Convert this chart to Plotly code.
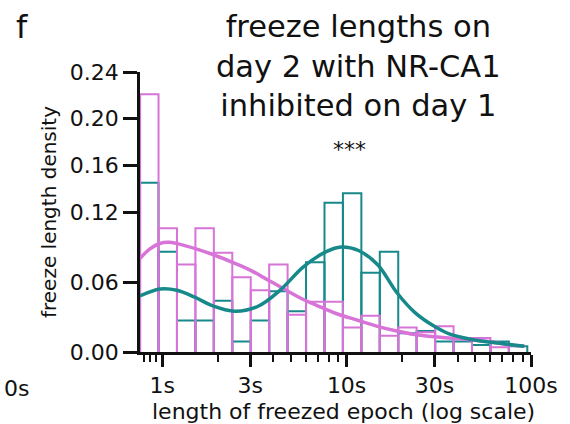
import plotly.graph_objects as go

# Histogram bins: 0.1-decade wide, log-spaced, in seconds
bin_edges_log = [-0.12 + 0.1 * k for k in range(22)]
bin_edges = [10 ** e for e in bin_edges_log]

# Density per bin (day 2 freeze lengths)
density_inhibited = [0.221, 0.106, 0.075, 0.106, 0.085, 0.064, 0.053, 0.075, 0.032, 0.043, 0.043,
                     0.021, 0.031, 0.014, 0.021, 0.017, 0.022, 0.012, 0.012, 0.004, 0.0]
density_control = [0.145, 0.086, 0.027, 0.027, 0.044, 0.009, 0.027, 0.052, 0.035, 0.077, 0.128,
                   0.136, 0.068, 0.086, 0.016, 0.018, 0.009, 0.009, 0.006, 0.009, 0.005]

# Kernel density estimates (seconds, density)
kde_inhibited_x = [0.757, 0.85, 0.97, 1.09, 1.34, 1.85, 2.48, 3.02, 3.72, 4.58, 5.83, 6.87,
                   8.77, 11.6, 14.7, 18.7, 23.4, 29.9, 46.8, 59.8, 73, 92]
kde_inhibited_y = [0.080, 0.088, 0.093, 0.094, 0.091, 0.084, 0.076, 0.070, 0.062, 0.054, 0.045,
                   0.040, 0.033, 0.027, 0.022, 0.018, 0.015, 0.013, 0.0105, 0.0089, 0.0065, 0.005]
kde_control_x = [0.757, 0.97, 1.2, 1.5, 1.85, 2.48, 3.29, 4.36, 5.83, 7.76, 9.33, 11.6, 14.7,
                 18.7, 23.4, 29.9, 36, 46.8, 73, 92]
kde_control_y = [0.048, 0.054, 0.053, 0.047, 0.040, 0.035, 0.039, 0.053, 0.073, 0.086, 0.090,
                 0.087, 0.075, 0.051, 0.034, 0.022, 0.0155, 0.011, 0.0069, 0.005]

x_tick_vals = [1, 3, 10, 30, 100]
x_tick_text = ["1s", "3s", "10s", "30s", "100s"]
x_minor_vals = [0.8, 0.86, 0.92, 2, 4, 5, 6, 7, 8, 9, 20, 40, 50, 60, 70, 80, 90]
y_tick_vals = [0.0, 0.06, 0.12, 0.16, 0.20, 0.24]

PINK = "#d873d8"
TEAL = "#17898a"
INK = "#111111"
FONT = "DejaVu Sans"


def outline(edges, heights):
    xs, ys = [], []
    for i, h in enumerate(heights):
        if h <= 0:
            continue
        xs += [edges[i], edges[i], edges[i + 1], edges[i + 1], None]
        ys += [0, h, h, 0, None]
    return xs, ys


fig = go.Figure()

xs, ys = outline(bin_edges, density_control)
fig.add_trace(go.Scatter(x=xs, y=ys, mode="lines", line=dict(color=TEAL, width=2),
                         hoverinfo="skip", showlegend=False))
xs, ys = outline(bin_edges, density_inhibited)
fig.add_trace(go.Scatter(x=xs, y=ys, mode="lines", line=dict(color=PINK, width=2),
                         hoverinfo="skip", showlegend=False))
fig.add_trace(go.Scatter(x=kde_inhibited_x, y=kde_inhibited_y, mode="lines",
                         line=dict(color=PINK, width=3.5, shape="spline", smoothing=1.0),
                         showlegend=False))
fig.add_trace(go.Scatter(x=kde_control_x, y=kde_control_y, mode="lines",
                         line=dict(color=TEAL, width=3.5, shape="spline", smoothing=1.0),
                         showlegend=False))

fig.update_layout(
    width=570, height=424,
    margin=dict(l=140, r=31, t=72, b=72),
    paper_bgcolor="white", plot_bgcolor="white",
    font=dict(family=FONT, color=INK),
    xaxis=dict(
        type="log", range=[-0.1205, 2.0],
        tickvals=x_tick_vals, ticktext=x_tick_text,
        ticks="outside", ticklen=12, tickwidth=2.5, tickcolor=INK,
        showline=True, linecolor=INK, linewidth=2.5,
        showgrid=False, zeroline=False,
        tickfont=dict(size=22, family=FONT, color=INK),
        minor=dict(tickvals=x_minor_vals, ticks="outside", ticklen=7, tickwidth=2,
                   tickcolor=INK, showgrid=False),
    ),
    yaxis=dict(
        range=[0, 0.24],
        tickvals=y_tick_vals, ticktext=[f"{v:.2f}" for v in y_tick_vals],
        ticks="outside", ticklen=14, tickwidth=2.5, tickcolor=INK,
        showline=True, linecolor=INK, linewidth=2.5,
        showgrid=False, zeroline=False,
        tickfont=dict(size=22, family=FONT, color=INK),
        title=dict(text="freeze length density", standoff=8,
                   font=dict(size=20, family=FONT, color=INK)),
    ),
    annotations=[
        dict(text="freeze lengths on<br>day 2 with NR-CA1<br>inhibited on day 1",
             xref="paper", yref="paper", x=0.56, y=1.0, xanchor="center", yanchor="bottom",
             yshift=-53, showarrow=False, align="center",
             font=dict(size=30.5, family=FONT, color=INK)),
        dict(text="length of freezed epoch (log scale)", xref="paper", yref="paper",
             x=0.52, y=0.0, xanchor="center", yanchor="top", yshift=-45, showarrow=False,
             font=dict(size=22, family=FONT, color=INK)),
        dict(text="f", xref="paper", yref="paper", x=-0.322, y=1.0, xanchor="left",
             yanchor="bottom", yshift=24, showarrow=False,
             font=dict(size=32, family=FONT, color=INK)),
        dict(text="***", x=1.015, y=0.775, xref="x", yref="paper", showarrow=False,
             font=dict(size=22, family=FONT, color=INK)),
        dict(text="0s", xref="paper", yref="paper", x=-0.352, y=0.0, xanchor="left",
             yanchor="top", yshift=-22, showarrow=False,
             font=dict(size=22, family=FONT, color=INK)),
    ],
)

fig.write_html("out.html")
